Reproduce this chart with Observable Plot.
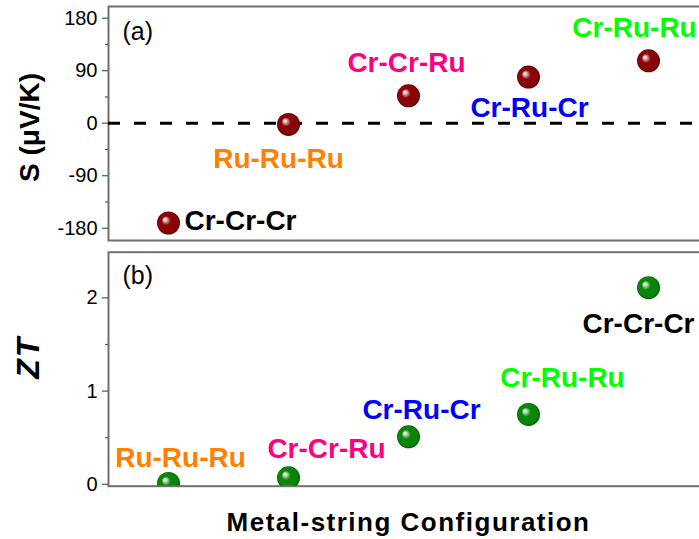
<!DOCTYPE html>
<html><head><meta charset="utf-8">
<script src="https://cdn.jsdelivr.net/npm/d3@7"></script>
<script src="https://cdn.jsdelivr.net/npm/@observablehq/plot@0.6"></script>
<style>
html,body{margin:0;padding:0;background:#fff;overflow:hidden;}
#chart{position:relative;width:699px;height:539px;}
#chart svg{display:block;}
</style></head><body><div id="chart"></div>
<script>
// ---- data ----
const sConfigs = ["Cr-Cr-Cr", "Ru-Ru-Ru", "Cr-Cr-Ru", "Cr-Ru-Cr", "Cr-Ru-Ru"];
const sValues = [-171, -2, 47, 79, 107];
const ztConfigs = ["Ru-Ru-Ru", "Cr-Cr-Ru", "Cr-Ru-Cr", "Cr-Ru-Ru", "Cr-Cr-Cr"];
const ztValues = [0.01, 0.07, 0.51, 0.75, 2.11];
const sTicks = [-180, -90, 0, 90, 180];
const sMinor = [-135, -45, 45, 135];
const ztTicks = [0, 1, 2];
const ztMinor = [0.5, 1.5];

// ---- styles ----
const labelColor = {
  "Cr-Cr-Cr": "#000000",
  "Ru-Ru-Ru": "#ff8000",
  "Cr-Cr-Ru": "#ff0080",
  "Cr-Ru-Cr": "#0000ff",
  "Cr-Ru-Ru": "#00ff00"
};
const sOffsets = {
  "Cr-Cr-Cr": [72, -2], "Ru-Ru-Ru": [-10, 35], "Cr-Cr-Ru": [-2, -33],
  "Cr-Ru-Cr": [1, 31], "Cr-Ru-Ru": [-14, -33]
};
const ztOffsets = {
  "Ru-Ru-Ru": [12, -25], "Cr-Cr-Ru": [38, -29], "Cr-Ru-Cr": [13, -27],
  "Cr-Ru-Ru": [34, -36], "Cr-Cr-Cr": [-10, 36]
};
const FONT = "Liberation Sans, Arial, Helvetica, sans-serif";
const frameColor = "#707070";
const fmt = d => String(d);

const sData = sConfigs.map((c, i) => ({pos: i + 1, config: c, value: sValues[i]}));
const ztData = ztConfigs.map((c, i) => ({pos: i + 1, config: c, value: ztValues[i]}));

function labelMarks(data, offsets) {
  return data.map(d => Plot.text([d], {
    x: "pos", y: "value", text: "config",
    dx: offsets[d.config][0], dy: offsets[d.config][1],
    fill: labelColor[d.config], fontSize: 28, fontWeight: "bold",
    fontFamily: FONT, textAnchor: "middle", lineAnchor: "middle"
  }));
}

function addGradient(svg, id, c1, c2, c3) {
  const defs = d3.select(svg).insert("defs", ":first-child");
  const g = defs.append("radialGradient").attr("id", id)
    .attr("cx", 0.5).attr("cy", 0.5).attr("r", 0.5).attr("fx", 0.33).attr("fy", 0.33);
  g.append("stop").attr("offset", "0%").attr("stop-color", "#ffffff");
  g.append("stop").attr("offset", "12%").attr("stop-color", c1);
  g.append("stop").attr("offset", "40%").attr("stop-color", c2);
  g.append("stop").attr("offset", "85%").attr("stop-color", c2);
  g.append("stop").attr("offset", "100%").attr("stop-color", c3);
}

// ---- panel (a) ----
const plotA = Plot.plot({
  width: 699, height: 245,
  marginTop: 6, marginBottom: 5, marginLeft: 108, marginRight: -9,
  style: {fontFamily: FONT, background: "transparent", overflow: "hidden"},
  x: {domain: [0.5, 5.5], axis: null},
  y: {domain: [-201, 200]},
  marks: [
    Plot.frame({stroke: frameColor, strokeWidth: 2}),
    Plot.ruleY([0], {stroke: "black", strokeWidth: 3, strokeDasharray: "12,14"}),
    Plot.axisY(sTicks, {tickSize: 6, tickPadding: 5, fontSize: 20, tickFormat: fmt, stroke: "#555", fill: "black", label: null, strokeWidth: 1.2}),
    Plot.axisY(sMinor, {tickSize: 3, tickFormat: () => "", stroke: "#555", label: null, strokeWidth: 1.2}),
    Plot.dot(sData, {x: "pos", y: "value", r: 11.5, fill: "url(#ballRed)", stroke: "none"}),
    ...labelMarks(sData, sOffsets),
    Plot.text(["(a)"], {frameAnchor: "top-left", dx: 14, dy: 25, textAnchor: "start", lineAnchor: "middle", fontSize: 25, fill: "black", fontFamily: FONT}),
    Plot.text(["S (\u03bcV/K)"], {frameAnchor: "left", dx: -78, dy: 4, rotate: -90, textAnchor: "middle", lineAnchor: "middle", fontSize: 28, fontWeight: "bold", fill: "black", fontFamily: FONT})
  ]
});
addGradient(plotA, "ballRed", "#f0c8c8", "#8a0606", "#5a0000");

// ---- panel (b) ----
const plotB = Plot.plot({
  width: 699, height: 294,
  marginTop: 6.7, marginBottom: 53.3, marginLeft: 108, marginRight: -9,
  style: {fontFamily: FONT, background: "transparent", overflow: "hidden"},
  x: {domain: [0.5, 5.5], axis: null},
  y: {domain: [-0.02, 2.49]},
  marks: [
    Plot.frame({stroke: frameColor, strokeWidth: 2}),
    Plot.axisY(ztTicks, {tickSize: 6, tickPadding: 5, fontSize: 20, tickFormat: fmt, stroke: "#555", fill: "black", label: null, strokeWidth: 1.2}),
    Plot.axisY(ztMinor, {tickSize: 3, tickFormat: () => "", stroke: "#555", label: null, strokeWidth: 1.2}),
    Plot.dot(ztData, {x: "pos", y: "value", r: 11.5, fill: "url(#ballGreen)", stroke: "none", clip: "frame"}),
    ...labelMarks(ztData, ztOffsets),
    Plot.text(["(b)"], {frameAnchor: "top-left", dx: 14, dy: 23.5, textAnchor: "start", lineAnchor: "middle", fontSize: 25, fill: "black", fontFamily: FONT}),
    Plot.text(["ZT"], {frameAnchor: "left", dx: -79.5, dy: -12, rotate: -90, textAnchor: "middle", lineAnchor: "middle", fontSize: 32, fontWeight: "bold", fontStyle: "italic", fill: "black", fontFamily: FONT}),
    Plot.text(["Metal-string Configuration"], {frameAnchor: "bottom", dx: 0, dy: 36, textAnchor: "middle", lineAnchor: "middle", fontSize: 26, fontWeight: "bold", fill: "black", fontFamily: FONT})
  ]
});
addGradient(plotB, "ballGreen", "#c8ecc8", "#0a850a", "#005a00");

d3.select(plotB).selectAll("text")
  .filter(function() { return this.textContent === "Metal-string Configuration"; })
  .style("letter-spacing", "1.5px");
d3.select(plotB).selectAll("text")
  .filter(function() { return this.textContent === "ZT"; })
  .style("letter-spacing", "2px");

document.getElementById("chart").append(plotA, plotB);
</script>
</body></html>
